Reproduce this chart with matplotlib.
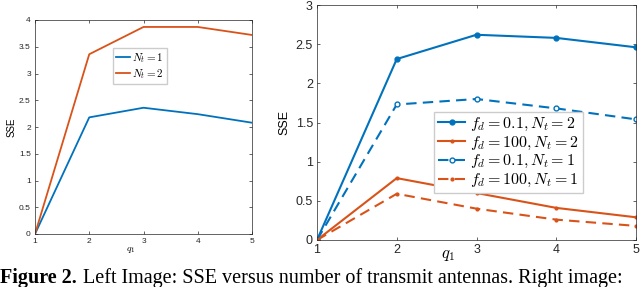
import numpy as np
from matplotlib import pyplot as plt

plt.rcParams['mathtext.fontset'] = 'cm'
plt.rcParams['font.family'] = ['Liberation Sans', 'DejaVu Sans']

blue = "#0072BD"
orange = "#D95319"

# left panel data
q1 = [1, 2, 3, 4, 5]
sse_nt1 = [0.0, 2.18, 2.36, 2.24, 2.08]
sse_nt2 = [0.0, 3.36, 3.87, 3.87, 3.72]

# right panel data
fd01_nt2 = [0.0, 2.31, 2.62, 2.58, 2.46]
fd100_nt2 = [0.0, 0.79, 0.60, 0.41, 0.29]
fd01_nt1 = [0.0, 1.73, 1.80, 1.68, 1.54]
fd100_nt1 = [0.0, 0.59, 0.40, 0.26, 0.18]

left_yticks = [0, 0.5, 1, 1.5, 2, 2.5, 3, 3.5, 4]
right_yticks = [0, 0.5, 1, 1.5, 2, 2.5, 3]


def style(ax, size):
    for s in ax.spines.values():
        s.set_color("#262626")
        s.set_linewidth(0.5)
    ax.tick_params(direction="in", length=2.5, width=0.5, labelsize=size,
                   top=True, right=True, colors="#262626", pad=3)
    ax.set_xlim(1, 5)
    ax.set_xticks(q1)


fig = plt.figure(figsize=(6.4, 2.87), dpi=100)

# left panel
ax1 = fig.add_axes([35 / 640, 1 - 234 / 287, 217 / 640, 214 / 287])
ax1.plot(q1, sse_nt1, color=blue, lw=1.3, label=r"$N_t = 1$")
ax1.plot(q1, sse_nt2, color=orange, lw=1.3, label=r"$N_t = 2$")
ax1.set_ylim(0, 4)
ax1.set_yticks(left_yticks)
ax1.set_yticklabels(["0", "0.5", "1", "1.5", "2", "2.5", "3", "3.5", "4"])
style(ax1, 6)
ax1.set_ylabel("SSE", fontsize=7, labelpad=2)
ax1.set_xlabel(r"$q_1$", fontsize=7)
ax1.xaxis.set_label_coords(0.44, -0.05)
ax1.legend(loc="upper left", bbox_to_anchor=(0.36, 0.87), borderaxespad=0,
           fontsize=8, handlelength=1.2, handletextpad=0.2, borderpad=0.3,
           labelspacing=0.2, fancybox=False, edgecolor="#cccccc", framealpha=1)

# right panel
ax2 = fig.add_axes([317 / 640, 1 - 240 / 287, 319 / 640, 235 / 287])
ax2.plot(q1, fd01_nt2, color=blue, lw=1.5, marker="o", ms=3.5,
         label=r"$f_d = 0.1, N_t = 2$")
ax2.plot(q1, fd100_nt2, color=orange, lw=1.5, marker="o", ms=2,
         label=r"$f_d = 100, N_t = 2$")
ax2.plot(q1, fd01_nt1, color=blue, lw=1.5, ls=(0, (5, 3)), marker="o", ms=3.5,
         mfc="white", label=r"$f_d = 0.1, N_t = 1$")
ax2.plot(q1, fd100_nt1, color=orange, lw=1.5, ls=(0, (5, 3)), marker="o", ms=2,
         label=r"$f_d = 100, N_t = 1$")
ax2.set_ylim(0, 3)
ax2.set_yticks(right_yticks)
ax2.set_yticklabels(["0", "0.5", "1", "1.5", "2", "2.5", "3"])
style(ax2, 9)
ax2.set_ylabel("SSE", fontsize=9, labelpad=4)
ax2.set_xlabel(r"$q_1$", fontsize=12, va="center")
ax2.xaxis.set_label_coords(0.41, -0.068)
ax2.legend(loc="upper left", bbox_to_anchor=(0.367, 0.545), borderaxespad=0,
           fontsize=11.5, handlelength=1.7, handletextpad=0.3, borderpad=0.25,
           labelspacing=0.1, fancybox=False, edgecolor="#cccccc", framealpha=1)

# caption along the bottom edge
fig.text(0.0, 1 - 283 / 287, "Figure 2.", fontsize=14.5,
         family="Liberation Serif", weight="bold", va="baseline")
fig.text(83 / 640, 1 - 283 / 287,
         "Left Image: SSE versus number of transmit antennas. Right image:",
         fontsize=14.5, family="Liberation Serif", va="baseline")

plt.savefig("out.png", dpi=100)
